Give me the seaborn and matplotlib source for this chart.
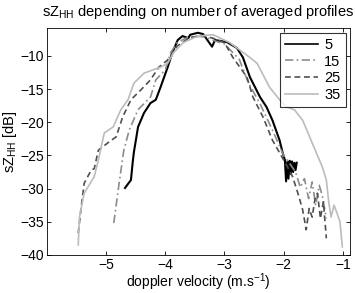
import pandas as pd
import matplotlib
matplotlib.use('Agg')
import matplotlib.pyplot as plt
import seaborn as sns

# profils moyennes: 5, 15, 25, 35
x5 = [-4.68, -4.58, -4.55, -4.53, -4.46, -4.36, -4.25, -4.16, -4.08, -3.96, -3.88, -3.79, -3.71,
      -3.61, -3.58, -3.45, -3.36, -3.21, -3.16, -2.96, -2.79, -2.69, -2.57, -2.40, -2.29, -2.19,
      -2.07, -2.02, -1.98, -1.96, -1.94, -1.92, -1.90, -1.88, -1.86, -1.84, -1.82, -1.80, -1.78]
y5 = [-29.9, -28.7, -26.0, -24.5, -20.7, -18.6, -17.1, -16.6, -14.7, -11.7, -9.5, -7.6, -7.0,
      -7.3, -6.8, -6.5, -6.7, -8.6, -7.6, -7.9, -8.8, -10.2, -13.2, -16.2, -17.7, -19.7,
      -22.7, -24.5, -25.7, -28.9, -26.0, -28.5, -25.8, -27.8, -25.9, -27.5, -26.1, -27.2, -26.1]

x15 = [-4.87, -4.78, -4.70, -4.61, -4.46, -4.25, -4.16, -4.00, -3.91, -3.80, -3.65, -3.50, -3.35,
       -3.20, -3.00, -2.75, -2.60, -2.40, -2.20, -2.00, -1.90, -1.80, -1.72, -1.65, -1.58, -1.52,
       -1.46, -1.40, -1.35, -1.30, -1.28]
y15 = [-35.2, -29.2, -24.2, -21.2, -18.1, -16.2, -13.6, -12.1, -9.5, -8.0, -7.3, -7.0, -7.1,
       -7.6, -8.2, -10.5, -14.0, -17.2, -21.0, -25.0, -26.2, -27.5, -29.8, -28.5, -31.5, -29.0,
       -32.5, -29.5, -31.0, -33.5, -34.5]

x25 = [-5.47, -5.42, -5.37, -5.25, -5.20, -5.13, -4.97, -4.83, -4.72, -4.58, -4.41, -4.25, -4.11,
       -3.96, -3.80, -3.60, -3.40, -3.20, -3.00, -2.86, -2.74, -2.62, -2.52, -2.35, -2.19, -2.07,
       -1.95, -1.85, -1.75, -1.68, -1.62, -1.57, -1.52, -1.47, -1.43, -1.38, -1.33, -1.28]
y25 = [-36.7, -32.8, -29.2, -27.2, -27.0, -24.2, -23.1, -22.2, -19.2, -16.6, -15.1, -13.6, -11.7,
       -10.6, -8.5, -7.3, -6.9, -7.3, -8.0, -10.2, -11.7, -13.2, -16.2, -19.2, -22.7, -24.6,
       -26.5, -28.2, -31.0, -33.2, -36.2, -33.0, -34.3, -31.5, -30.7, -34.5, -32.0, -37.5]

x35 = [-5.47, -5.45, -5.37, -5.20, -5.13, -5.03, -4.88, -4.75, -4.63, -4.53, -4.36, -4.21, -4.08,
       -3.96, -3.86, -3.70, -3.50, -3.35, -3.19, -2.91, -2.62, -2.45, -2.24, -2.07, -1.95, -1.82,
       -1.68, -1.52, -1.35, -1.28, -1.24, -1.20, -1.15, -1.10, -1.05, -1.01]
y35 = [-38.5, -34.3, -30.7, -28.2, -25.7, -21.6, -20.7, -18.1, -16.6, -14.1, -12.6, -12.1, -11.7,
       -11.1, -9.5, -8.0, -7.2, -6.9, -6.8, -8.0, -9.9, -11.1, -14.7, -16.6, -17.7, -18.1,
       -19.7, -23.1, -26.7, -28.7, -32.0, -34.3, -32.5, -33.7, -35.0, -38.8]

rotulos = ['5', '15', '25', '35']
cores = ['#000000', '#8c8c8c', '#505050', '#bcbcbc']
tracos = ['', (5, 2, 1, 2), (3.5, 2.2), '']

dados = pd.concat([
    pd.DataFrame({'v': x, 'z': y, 'n': r})
    for x, y, r in zip([x5, x15, x25, x35], [y5, y15, y25, y35], rotulos)
])

plt.rcParams['font.family'] = ['Liberation Sans', 'DejaVu Sans']
plt.rcParams['mathtext.default'] = 'regular'

fig = plt.figure(figsize=(3.55, 2.93), dpi=100)
ax = fig.add_axes([0.132, 0.13, 0.854, 0.774])
sns.lineplot(data=dados, x='v', y='z', hue='n', style='n', sort=False, estimator=None,
             palette=dict(zip(rotulos, cores)), dashes=dict(zip(rotulos, tracos)),
             linewidth=1.2, ax=ax)
ax.lines[0].set_linewidth(1.5)

ax.set_xlim(-6, -0.88)
ax.set_ylim(-40, -5.8)
ax.set_xticks([-5, -4, -3, -2, -1])
ax.set_yticks([-40, -35, -30, -25, -20, -15, -10])
ax.set_xticklabels(['\u22125', '\u22124', '\u22123', '\u22122', '\u22121'])
ax.set_yticklabels(['\u221240', '\u221235', '\u221230', '\u221225', '\u221220', '\u221215', '\u221210'])
ax.tick_params(direction='in', top=True, right=True, labelsize=10, length=3, width=0.6, pad=2)
for s in ax.spines.values():
    s.set_linewidth(0.6)
ax.set_title(r'sZ$_{HH}$ depending on number of averaged profiles', fontsize=10.5, pad=9)
ax.set_xlabel(r'doppler velocity (m.s$^{-1}$)', fontsize=10, labelpad=0)
ax.set_ylabel(r'sZ$_{HH}$ [dB]', fontsize=10.5, labelpad=1)

leg = ax.legend(loc='upper right', fontsize=10.5, frameon=True, fancybox=False,
                handlelength=2.3, borderpad=0.35, labelspacing=0.2, handletextpad=0.4,
                borderaxespad=0.3)
leg.get_frame().set_edgecolor('black')
leg.get_frame().set_linewidth(0.8)

fig.savefig('out.png', dpi=100)
